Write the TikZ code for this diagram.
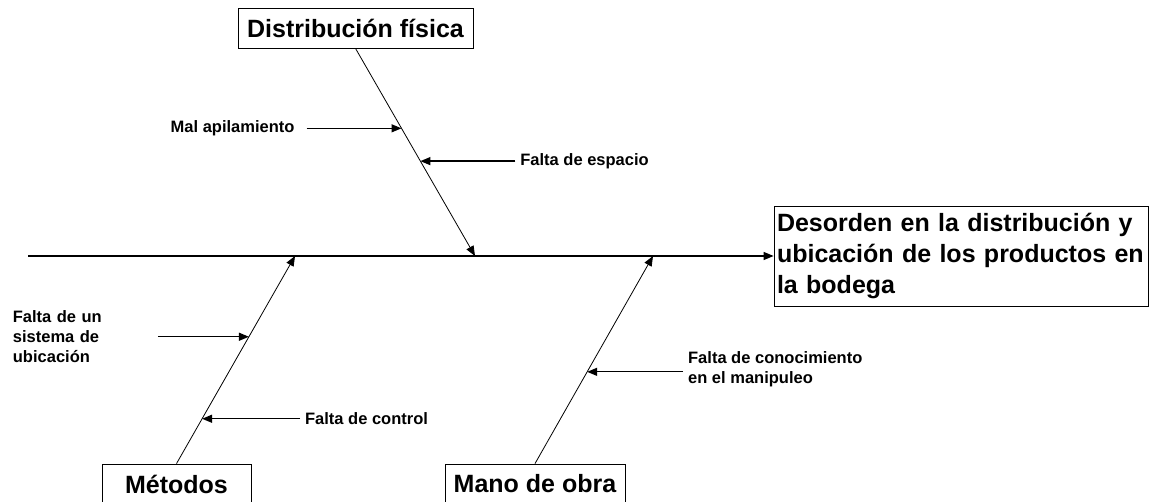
\documentclass[tikz,border=0pt]{standalone}
\usepackage{fontspec}
\setmainfont{Liberation Sans}
\usetikzlibrary{arrows.meta,positioning,calc}

\begin{document}
\begin{tikzpicture}[x=1pt,y=-1pt,>={Triangle[length=10pt,width=8pt]},
	box node/.style={draw,line width=0.8pt,inner sep=0pt,font=\fontsize{25}{31}\selectfont\bfseries},
	cause node/.style={inner sep=2pt,outer sep=3pt,align=left,font=\fontsize{16.5}{20}\selectfont\bfseries},
	bone/.style={->,line width=0.8pt},
	sub/.style={->,line width=1.3pt}]
	\useasboundingbox (0,0) rectangle (1162,502);
	
	\node[box node,minimum width=235pt,minimum height=40pt] (fis) at (355.5,28) {Distribución física};
	\node[box node,minimum width=149pt,minimum height=40pt] (met) at (176.5,484) {Métodos};
	\node[box node,minimum width=180pt,minimum height=40pt] (mano) at (535,484) {Mano de obra};
	\node[box node,text width=368pt,inner xsep=3pt,minimum height=100pt,align=left] (effect) at (961,256)
		{Desorden en la distribución y\\ubicación de los productos en\\la bodega};
	
	\coordinate (tail) at (28,256);
	\coordinate (s1) at (475,256);
	\coordinate (s2) at (295,256);
	\coordinate (s3) at (653,256);
	
	\draw[sub] (tail) -- (effect);
	\draw[bone] (fis.south) -- (s1);
	\draw[bone] (met.north) -- (s2);
	\draw[bone] (mano.north) -- (s3);
	
	\coordinate (p1) at ($(fis.south)!0.385!(s1)$);
	\coordinate (p2) at ($(fis.south)!0.543!(s1)$);
	\coordinate (p4) at ($(met.north)!0.611!(s2)$);
	\coordinate (p5) at ($(met.north)!0.216!(s2)$);
	\coordinate (p6) at ($(mano.north)!0.442!(s3)$);
	
	\node[cause node] (mal) [left=102pt of p1] {Mal apilamiento};
	\node[cause node] (esp) [right=95pt of p2] {Falta de espacio};
	\node[cause node,text width=140pt] (ubic) [left=91pt of p4] {Falta de un\\sistema de\\ubicación};
	\node[cause node] (ctrl) [right=98pt of p5] {Falta de control};
	\node[cause node] (con) [right=96pt of p6,yshift=3pt] {Falta de conocimiento\\en el manipuleo};
	
	\draw[sub,shorten <=7pt] (mal) -- (p1);
	\draw[sub] (esp) -- (p2);
	\draw[sub] (ubic.east) -- (p4);
	\draw[sub] (ctrl) -- (p5);
	\draw[sub] (con.west |- p6) -- (p6);
\end{tikzpicture}
\end{document}
